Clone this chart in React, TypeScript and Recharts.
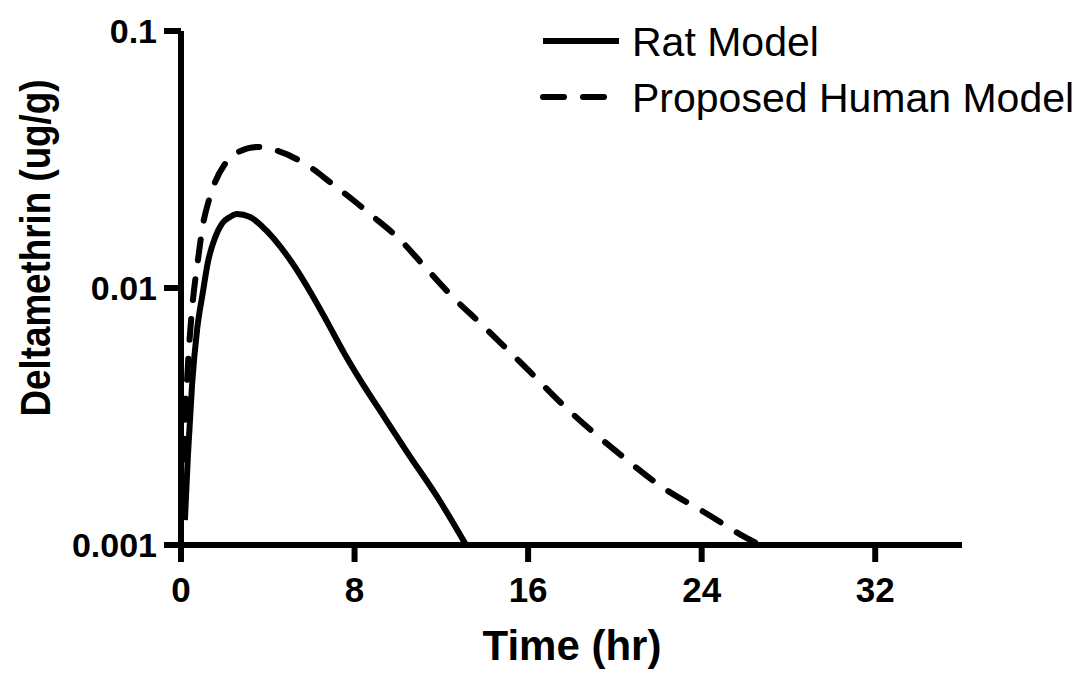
import { Legend, Line, LineChart, XAxis, YAxis } from "recharts";

// (time in hr, concentration in ug/g)
const ratTime = [0.18, 0.32, 0.51, 0.74, 1.01, 1.24, 1.57, 1.89, 2.26, 2.58, 3.18, 3.73, 5.16, 6.04, 6.73, 7.51, 8.25, 9.31, 10.42, 11.94, 13.14, 13.8];
const ratConc = [0.00125, 0.00224, 0.0042, 0.00687, 0.00964, 0.0126, 0.0157, 0.0178, 0.0189, 0.0194, 0.0189, 0.0174, 0.0124, 0.0094, 0.0074, 0.0056, 0.0044, 0.0032, 0.0023, 0.00148, 0.001, 0.0008];

const humanTime = [0.05, 0.14, 0.28, 0.41, 0.55, 0.78, 1.01, 1.29, 1.57, 2.03, 2.63, 3.55, 4.33, 5.86, 7.1, 7.93, 8.71, 10.1, 11.16, 12.54, 13.79, 16.0, 17.47, 20.38, 22.09, 24.39, 25.77, 26.69, 27.8];
const humanConc = [0.0015, 0.00257, 0.00439, 0.00656, 0.00897, 0.01285, 0.0176, 0.022, 0.0258, 0.0304, 0.0338, 0.0354, 0.0344, 0.0299, 0.0249, 0.022, 0.0194, 0.0154, 0.0123, 0.0092, 0.0073, 0.0048, 0.0036, 0.0022, 0.0017, 0.0013, 0.0011, 0.001, 0.0009];

const seriesNames = ["Rat Model", "Proposed Human Model"];
const xTicks = [0, 8, 16, 24, 32];
const yTicks = [0.001, 0.01, 0.1];

const ratData = ratTime.map((t, i) => ({ t, c: ratConc[i] }));
const humanData = humanTime.map((t, i) => ({ t, c: humanConc[i] }));

const font = '"Liberation Sans", Arial, Helvetica, sans-serif';
const dash = "21 19";

function XTick({ x, y, payload }: any) {
  return (
    <text x={x} y={y + 38} textAnchor="middle" fontFamily={font} fontWeight="bold" fontSize={35} fill="#000">
      {payload.value}
    </text>
  );
}

function YTick({ x, y, payload }: any) {
  return (
    <text x={x - 5} y={y + 12} textAnchor="end" fontFamily={font} fontWeight="bold" fontSize={34} fill="#000">
      {String(payload.value)}
    </text>
  );
}

function LegendBox({ payload }: any) {
  const rows = [...(payload || [])].sort(
    (a: any, b: any) => seriesNames.indexOf(a.value) - seriesNames.indexOf(b.value)
  );
  return (
    <svg width={546} height={130} style={{ display: "block" }}>
      {rows.map((entry: any, i: number) => {
        const cy = 41 + i * 56;
        const dashed = entry.payload?.strokeDasharray;
        return (
          <g key={entry.value}>
            <line
              x1={3}
              x2={79}
              y1={cy}
              y2={cy}
              stroke="#000"
              strokeWidth={6}
              strokeDasharray={dashed}
              strokeLinecap={dashed ? "round" : "butt"}
            />
            <text x={92} y={cy + 15} fontFamily={font} fontSize={41} fill="#000">
              {entry.value}
            </text>
          </g>
        );
      })}
    </svg>
  );
}

export default function App() {
  return (
    <div style={{ position: "absolute", left: 0, top: 0, background: "#fff" }}>
      <LineChart width={1086} height={673} margin={{ top: 31, right: 124, bottom: 0, left: 0 }}>
        <XAxis
          type="number"
          dataKey="t"
          domain={[0, 36]}
          ticks={xTicks}
          height={128}
          tickSize={17}
          axisLine={{ stroke: "#000", strokeWidth: 6 }}
          tickLine={{ stroke: "#000", strokeWidth: 6 }}
          tick={<XTick />}
          allowDataOverflow
          label={{
            content: () => (
              <text x={572} y={660} textAnchor="middle" fontFamily={font} fontWeight="bold" fontSize={42} fill="#000">
                Time (hr)
              </text>
            ),
          }}
        />
        <YAxis
          type="number"
          scale="log"
          domain={[0.001, 0.1]}
          ticks={yTicks}
          width={181}
          tickSize={17}
          axisLine={{ stroke: "#000", strokeWidth: 6 }}
          tickLine={{ stroke: "#000", strokeWidth: 6 }}
          tick={<YTick />}
          allowDataOverflow
          label={{
            content: () => (
              <text
                transform="translate(50,248) rotate(-90)"
                textAnchor="middle"
                fontFamily={font}
                fontWeight="bold"
                fontSize={42}
                textLength={337}
                lengthAdjust="spacingAndGlyphs"
                fill="#000"
              >
                Deltamethrin (ug/g)
              </text>
            ),
          }}
        />
        <Legend
          layout="vertical"
          align="center"
          verticalAlign="middle"
          wrapperStyle={{ position: "absolute", left: 540, top: 0, width: 546, height: 130 }}
          content={<LegendBox />}
        />
        <Line
          data={ratData}
          dataKey="c"
          name={seriesNames[0]}
          type="monotone"
          stroke="#000"
          strokeWidth={6}
          dot={false}
          activeDot={false}
          isAnimationActive={false}
        />
        <Line
          data={humanData}
          dataKey="c"
          name={seriesNames[1]}
          type="monotone"
          stroke="#000"
          strokeWidth={6}
          strokeDasharray={dash}
          strokeLinecap="round"
          dot={false}
          activeDot={false}
          isAnimationActive={false}
        />
      </LineChart>
    </div>
  );
}
